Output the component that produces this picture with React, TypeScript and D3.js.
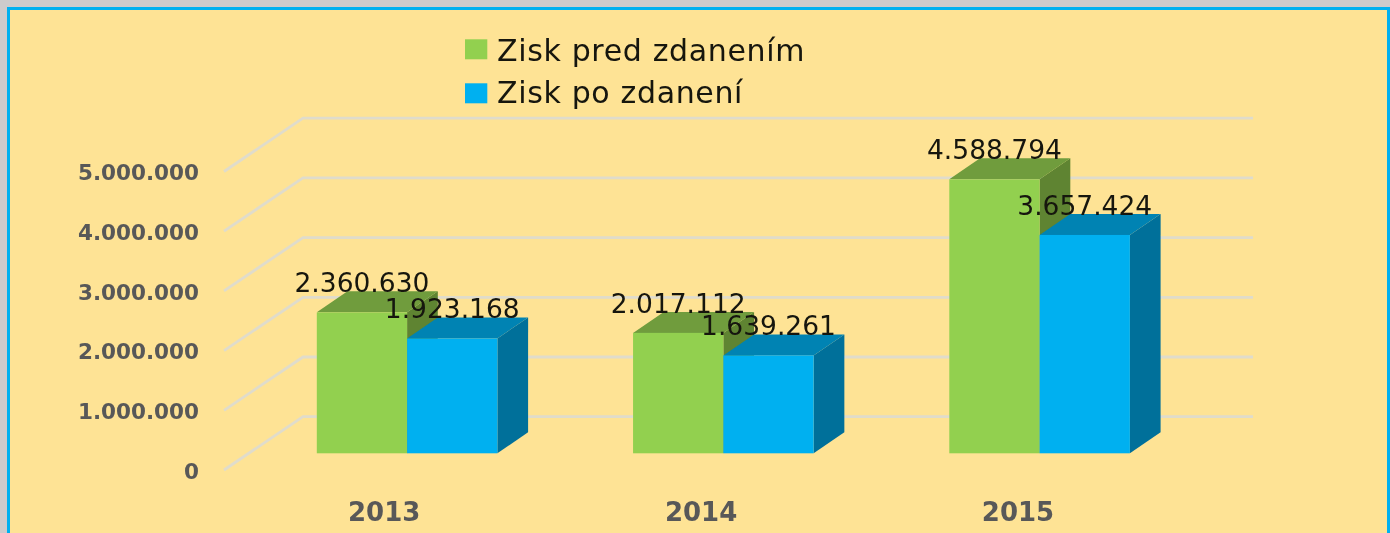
import React from "react";
import * as d3 from "d3";

const categories = ["2013", "2014", "2015"];
const preTax = [2360630, 2017112, 4588794];
const postTax = [1923168, 1639261, 3657424];
const ticks = [0, 1000000, 2000000, 3000000, 4000000, 5000000];
const seriesNames = ["Zisk pred zdanením", "Zisk po zdanení"];

const W = 1390, H = 533;
const BG = "#FEE395", FRAME = "#CDCBCC", EDGE = "#00B0F0";
const GRID = "#E0DCCB", AXIS = "#595959", LABEL = "#141410";
const FONT = "'DejaVu Sans', sans-serif";
const COLORS = [
  { front: "#92D050", top: "#6F9C3D", side: "#5E8430" },
  { front: "#00B0F0", top: "#0083B3", side: "#006F9A" },
];
const DEPTH_X = 30.7, DEPTH_Y = 21;
const WALL_X = 79, WALL_Y = 53.3;

const y = d3.scaleLinear().domain([0, 5000000]).range([453.3, 154.8]);
const groupX = d3.scalePoint<string>().domain(categories).range([316.8, 949.3]);
const labelX = d3.scalePoint<string>().domain(categories).range([384.2, 1018]);
const groupWidth = 180.6;
const fmt = (v: number) => d3.format(",")(v).replace(/,/g, ".");
const poly = (pts: [number, number][]) => (d3.line()(pts) ?? "") + "Z";

export default function App() {
  const barW = groupWidth / 2;
  const series = [preTax, postTax];
  const gridY = (v: number) => y(v) - 36.6;
  return (
    <svg width={W} height={H} viewBox={`0 0 ${W} ${H}`}
      style={{ position: "fixed", left: 0, top: 0, display: "block", background: BG }}>
      <defs>
        <filter id="soft" x="0" y="0" width="100%" height="100%">
          <feGaussianBlur stdDeviation="0.45" />
        </filter>
      </defs>
      <rect x={0} y={0} width={W} height={H} fill={FRAME} />
      <rect x={7} y={7} width={W - 7} height={H - 7} fill={EDGE} />
      <rect x={10} y={10} width={W - 13} height={H - 10} fill={BG} />

      <g filter="url(#soft)">
        {ticks.map((t) => (
          <g key={t}>
            <path d={d3.line()([[224, gridY(t) + WALL_Y], [224 + WALL_X, gridY(t)], [1253, gridY(t)]]) ?? ""}
              fill="none" stroke={GRID} strokeWidth={2.8} />
            <text x={199} y={gridY(t) + WALL_Y + 8.6} textAnchor="end" fontFamily={FONT} fontWeight={700}
              fontSize={21.5} fill={AXIS}>{fmt(t)}</text>
          </g>
        ))}

        {categories.map((c, i) => {
          const gx = groupX(c) as number;
          return (
            <g key={c}>
              {series.map((s, k) => {
                const x0 = gx + k * barW, x1 = x0 + barW, yt = y(s[i]), yb = y(0);
                const col = COLORS[k];
                return (
                  <g key={k}>
                    <path d={poly([[x1, yb], [x1 + DEPTH_X, yb - DEPTH_Y], [x1 + DEPTH_X, yt - DEPTH_Y], [x1, yt]])} fill={col.side} />
                    <path d={poly([[x0, yt], [x0 + DEPTH_X, yt - DEPTH_Y], [x1 + DEPTH_X, yt - DEPTH_Y], [x1, yt]])} fill={col.top} />
                    <rect x={x0} y={yt} width={barW} height={yb - yt} fill={col.front} />
                  </g>
                );
              })}
              <text x={labelX(c)} y={520.5} textAnchor="middle" fontFamily={FONT} fontWeight={700}
                fontSize={26} fill={AXIS}>{c}</text>
            </g>
          );
        })}

        {categories.map((c, i) => series.map((s, k) => (
          <text key={c + k} x={(groupX(c) as number) + k * barW + barW / 2} y={y(s[i]) - DEPTH_Y + 1}
            textAnchor="middle" fontFamily={FONT} fontSize={26.5} fill={LABEL}>{fmt(s[i])}</text>
        )))}

        {seriesNames.map((n, k) => (
          <g key={n}>
            <rect x={465} y={39.3 + k * 44} width={22.3} height={20} fill={COLORS[k].front} />
            <text x={497} y={60.5 + k * 42.3} fontFamily={FONT} fontSize={30} letterSpacing={0.65} fill={LABEL}>{n}</text>
          </g>
        ))}
      </g>
    </svg>
  );
}
